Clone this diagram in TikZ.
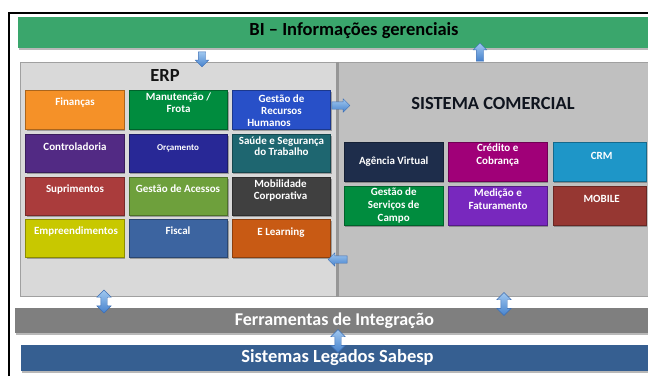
\documentclass[tikz,border=0pt]{standalone}
\usepackage{fontspec}
\setmainfont{Carlito}
\usetikzlibrary{shapes.arrows}
\definecolor{bigreen}{RGB}{58,166,108}
\definecolor{intgray}{RGB}{127,127,127}
\definecolor{legblue}{RGB}{54,95,145}
\definecolor{erpfill}{RGB}{217,217,217}
\definecolor{erpline}{RGB}{160,160,160}
\definecolor{comfill}{RGB}{192,192,192}
\definecolor{divgray}{RGB}{150,150,150}
\definecolor{arrowlight}{RGB}{160,200,240}
\definecolor{arrowdark}{RGB}{70,130,205}
\definecolor{arrowline}{RGB}{60,110,180}
\definecolor{cfin}{RGB}{245,145,40}
\definecolor{cman}{RGB}{0,140,62}
\definecolor{crh}{RGB}{40,80,200}
\definecolor{cctl}{RGB}{82,42,132}
\definecolor{corc}{RGB}{40,40,150}
\definecolor{csau}{RGB}{30,102,112}
\definecolor{csup}{RGB}{170,60,60}
\definecolor{cace}{RGB}{110,160,60}
\definecolor{cmob}{RGB}{64,64,64}
\definecolor{cemp}{RGB}{200,200,0}
\definecolor{cfis}{RGB}{60,100,160}
\definecolor{celn}{RGB}{200,90,20}
\definecolor{cage}{RGB}{30,45,75}
\definecolor{ccre}{RGB}{160,0,120}
\definecolor{ccrm}{RGB}{30,150,200}
\definecolor{cgsc}{RGB}{0,140,62}
\definecolor{cmed}{RGB}{120,40,190}
\definecolor{cmbl}{RGB}{150,55,50}
\tikzset{
  shadowed/.style={preaction={fill=black, opacity=.28, transform canvas={xshift=1pt,yshift=-1.5pt}}},
  mbox/.style={shadowed, fill=#1, draw=#1!70!black, line width=0.6pt, inner sep=0pt},
  erpbox/.style={mbox=#1, minimum width=98.5pt, minimum height=38.5pt},
  combox/.style={mbox=#1, minimum height=39pt},
  btxt/.style={text=white, font=\fontsize{11}{11.8}\selectfont\bfseries, align=center, inner sep=0pt},
  ctxt/.style={btxt, font=\fontsize{11}{13}\selectfont\bfseries},
  bar/.style={shadowed, inner sep=0pt, draw=none},
  bartxt/.style={text=white, font=\fontsize{18}{20}\selectfont\bfseries, inner sep=0pt},
  title/.style={font=\fontsize{18.5}{20}\selectfont\bfseries, inner sep=0pt},
  barrow/.style={draw=arrowline, line width=0.4pt, top color=arrowlight, bottom color=arrowdark},
  sarrow/.style={barrow, single arrow, single arrow head extend=3pt, inner sep=3.5pt},
  darrow/.style={barrow, double arrow, double arrow head extend=4pt, inner sep=3pt, minimum height=23pt, rotate=90}
}
\newcommand\mkbox[8]{%
  \node[#4] (#1) at (#2,#3) {};
  \node[#5] (#1t) at (#6,#7) {#8};}
\begin{document}
\begin{tikzpicture}[x=1pt,y=-1pt]
\useasboundingbox (0,0) rectangle (648,376);
\fill[white] (0,0) rectangle (648,376);
% frame
\draw[line width=2pt] (9,376) -- (9,12.5) -- (648,12.5);
% BI bar
\node[bar, fill=bigreen, minimum width=630pt, minimum height=31pt] (bi) at (333,32.5) {};
\node[title] (bit) at (354,31) {BI – Informações gerenciais};
% panels
\node[draw=erpline, fill=erpfill, line width=1.5pt, minimum width=316pt, minimum height=234pt, inner sep=0pt] (erp) at (178.5,179.5) {};
\node[draw=erpline, fill=comfill, line width=1.5pt, minimum width=320pt, minimum height=234pt, inner sep=0pt] (com) at (498,179.5) {};
\draw[divgray, line width=3pt] (erp.north east) -- (erp.south east);
\node[title, text={rgb,255:red,20;green,20;blue,20}] (erpt) at (165,75) {ERP};
\node[title, text={rgb,255:red,15;green,20;blue,30}] (comt) at (493,103) {SISTEMA COMERCIAL};
% ERP boxes
\mkbox{fin}{75}{109.8}{erpbox=cfin}{btxt}{75}{102.7}{Finanças}
\mkbox{man}{178.5}{109.8}{erpbox=cman}{btxt}{178.5}{102.5}{Manutenção /\\Frota}
\mkbox{grh}{281.3}{109.8}{erpbox=crh}{btxt}{281.5}{110.5}{Gestão de\\Recursos\\Humanos\hspace*{25pt}}
\mkbox{ctl}{75}{153.3}{erpbox=cctl}{btxt}{75}{146.7}{Controladoria}
\mkbox{orc}{178.5}{153.3}{erpbox=corc}{btxt, font=\fontsize{9}{10}\selectfont\bfseries}{178}{148.3}{Orçamento}
\mkbox{sau}{281.3}{153.3}{erpbox=csau}{btxt}{281.5}{146.2}{Saúde e Segurança\\do Trabalho}
\mkbox{sup}{75}{196.3}{erpbox=csup}{btxt}{75}{189}{Suprimentos}
\mkbox{ace}{178.5}{196.3}{erpbox=cace}{btxt}{178}{188.3}{Gestão de Acessos}
\mkbox{mob}{281.3}{196.3}{erpbox=cmob}{btxt}{280.5}{190.2}{Mobilidade\\Corporativa}
\mkbox{emp}{75}{238.5}{erpbox=cemp}{btxt}{76}{231}{Empreendimentos}
\mkbox{fis}{178.5}{238.5}{erpbox=cfis}{btxt}{178}{230.7}{Fiscal}
\mkbox{eln}{281.3}{238.5}{erpbox=celn}{btxt}{281}{232.3}{E Learning}
% Comercial boxes
\mkbox{age}{393.5}{161.5}{combox=cage, minimum width=99pt}{ctxt}{393.7}{161.7}{Agência Virtual}
\mkbox{cre}{497.5}{161.5}{combox=ccre, minimum width=99pt}{ctxt}{497.7}{155.3}{Crédito e\\Cobrança}
\mkbox{crm}{599.5}{161.5}{combox=ccrm, minimum width=93pt}{ctxt}{601.7}{155.7}{CRM}
\mkbox{gsc}{393.5}{205.5}{combox=cgsc, minimum width=99pt}{ctxt}{393.7}{205.7}{Gestão de\\Serviços de\\Campo}
\mkbox{med}{497.5}{205.5}{combox=cmed, minimum width=99pt}{ctxt}{498}{199.2}{Medição e\\Faturamento}
\mkbox{mbl}{599.5}{205.5}{combox=cmbl, minimum width=93pt}{ctxt}{601.7}{199}{MOBILE}
% bottom bars
\node[bar, fill=intgray, minimum width=633pt, minimum height=25pt] (int) at (331.5,320.5) {};
\node[bartxt] (intt) at (334.5,321) {Ferramentas de Integração};
\node[bar, fill=legblue, minimum width=627pt, minimum height=26pt] (leg) at (334.5,358) {};
\node[bartxt, font=\fontsize{18.5}{20}\selectfont\bfseries] (legt) at (337.5,358) {Sistemas Legados Sabesp};
% arrows
\node[sarrow, minimum height=15pt, rotate=-90] (a1) at (202,57.5) {};
\node[sarrow, minimum height=18pt, rotate=90] (a2) at (480,54) {};
\node[sarrow, minimum height=18pt] (a3) at (339,105.5) {};
\node[sarrow, minimum height=19pt, rotate=180] (a4) at (339.5,259.5) {};
\node[darrow] (d1) at (104,301.5) {};
\node[darrow] (d2) at (504,304) {};
\node[darrow] (d3) at (338,341) {};
\end{tikzpicture}
\end{document}
